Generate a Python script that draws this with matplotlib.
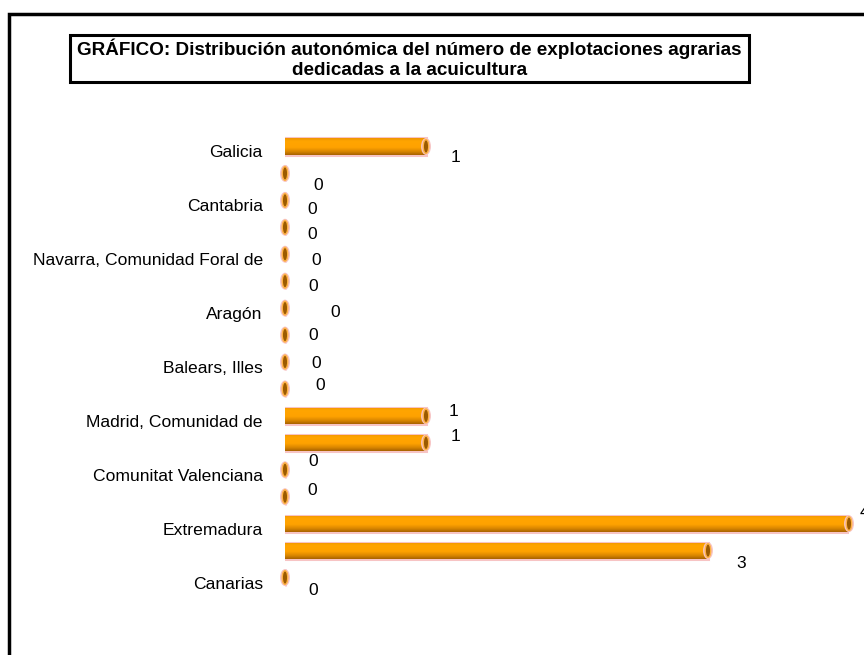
"""
Explotaciones agrarias dedicadas a la acuicultura, por comunidad autonoma.
"""
import numpy as np
import matplotlib
matplotlib.use("Agg")
import matplotlib.pyplot as plt
from matplotlib import transforms
from matplotlib.patches import Rectangle, Ellipse
from matplotlib.colors import LinearSegmentedColormap

plt.rcParams['font.family'] = ['Liberation Sans', 'DejaVu Sans']

comunidades = ["Galicia", "Asturias, Principado de", "Cantabria", "País Vasco",
               "Navarra, Comunidad Foral de", "Rioja, La", "Aragón", "Cataluña",
               "Balears, Illes", "Castilla y León", "Madrid, Comunidad de",
               "Castilla - La Mancha", "Comunitat Valenciana", "Murcia, Región de",
               "Extremadura", "Andalucía", "Canarias"]
explotaciones = [1, 0, 0, 0, 0, 0, 0, 0, 0, 0, 1, 1, 0, 0, 4, 3, 0]

titulo = ("GRÁFICO: Distribución autonómica del número de explotaciones agrarias\n"
          "dedicadas a la acuicultura")

# desplazamiento (px) de cada etiqueta de dato, como en la hoja original
label_dx = [29, 33, 27, 27, 31, 28, 50, 28, 31, 35, 27, 29, 28, 27, 15, 33, 28]
label_dy = [-11, -12, -9, -7, -6, -5, -4, 0, -1, 3, 4, 6, 8, 6, 11, -13, -13]

W, H = 864, 655
fig = plt.figure(figsize=(W / 100, H / 100), dpi=100)

# marco del area de grafico (cortado a la derecha y abajo)
fig.patches.append(Rectangle((9 / W, -0.1), 1.2, 1 - 14 / H + 0.1,
                             transform=fig.transFigure, fill=False,
                             edgecolor="black", linewidth=2.5))

# caja del titulo
fig.patches.append(Rectangle((70 / W, 1 - 82 / H), 679 / W, 47 / H,
                             transform=fig.transFigure, fill=False,
                             edgecolor="black", linewidth=2.2))
fig.text(409.5 / W, 1 - 58.5 / H, titulo, ha="center", va="center",
         fontsize=13.6, fontweight="bold", linespacing=1.2)

ax = fig.add_axes([285 / W, 1 - 591 / H, 564 / W, 458 / H])

y_pos = np.arange(len(comunidades))
bar_h = 0.6
xmax = 4

grad = LinearSegmentedColormap.from_list(
    "cil", [(0, "#EE9400"), (0.18, "#FFA500"), (0.55, "#FFA200"),
            (0.8, "#D98600"), (1, "#A86200")])
gimg = np.linspace(0, 1, 64).reshape(-1, 1)

bars = ax.barh(y_pos, explotaciones, height=bar_h, color="#FFA500",
               edgecolor="#F7C4C4", linewidth=2.2)
for b in bars:
    if b.get_width() <= 0:
        continue
    x0, y0 = b.get_x(), b.get_y()
    im = ax.imshow(gimg, cmap=grad, aspect="auto", interpolation="bilinear",
                   extent=(x0, x0 + b.get_width(), y0 + bar_h, y0), zorder=2)
    im.set_clip_path(b)

cap_w = 5.5 / 141
for y, v in zip(y_pos, explotaciones):
    ax.add_patch(Ellipse((v, y), cap_w * 1.8, bar_h * 1.05, facecolor="#F7C4C4",
                         edgecolor="none", zorder=3, clip_on=False))
    ax.add_patch(Ellipse((v, y), cap_w, bar_h * 0.85, facecolor="#9C5A00",
                         edgecolor="#FFB347", linewidth=1.0, zorder=4, clip_on=False))

for i, (y, v) in enumerate(zip(y_pos, explotaciones)):
    ax.annotate(str(v), xy=(v, y), xytext=(label_dx[i], label_dy[i]),
                textcoords="offset pixels", ha="center", va="center",
                fontsize=12.5, annotation_clip=False)

ax.set_xlim(0, xmax)
ax.set_ylim(len(comunidades) - 0.5, -0.5)
ax.set_yticks(y_pos[::2])
ax.set_yticklabels(comunidades[::2], fontsize=12.6)
ax.set_xticks([])
ax.tick_params(axis="y", length=0, pad=16)
# las etiquetas de categoria quedan un poco por debajo del cilindro
shift = transforms.ScaledTranslation(0, -5 / 100, fig.dpi_scale_trans)
for lbl in ax.get_yticklabels():
    lbl.set_transform(lbl.get_transform() + shift)
for s in ax.spines.values():
    s.set_visible(False)
ax.patch.set_alpha(0)

fig.savefig("out.png", dpi=100)
